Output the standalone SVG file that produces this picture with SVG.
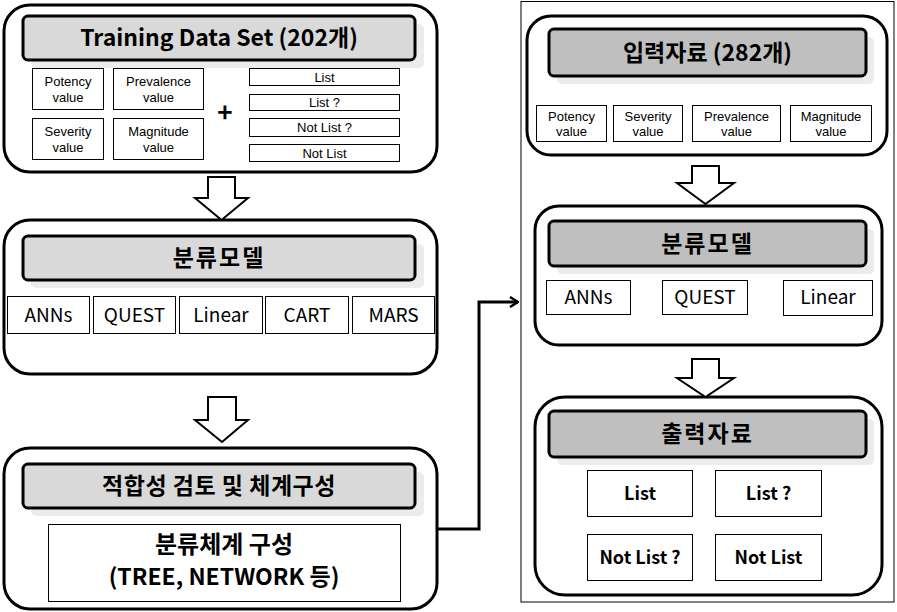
<svg xmlns="http://www.w3.org/2000/svg" width="897" height="612" viewBox="0 0 897 612">
<defs>
<style>
.outer{fill:#fff;stroke:#000;stroke-width:3}
.bar1{fill:#d9d9d9;stroke:#000;stroke-width:3}
.bar2{fill:#bfbfbf;stroke:#000;stroke-width:3}
.shadow{fill:#ececec;stroke:none}
.box{fill:#fff;stroke:#000;stroke-width:1}
.arrow{fill:#fff;stroke:#000;stroke-width:2;stroke-linejoin:miter}
.t{font-family:"Noto Sans CJK KR","Noto Sans",sans-serif;text-anchor:middle;fill:#000}
.title{font-size:23px;font-weight:bold}
.small{font-family:"Liberation Sans",Arial,sans-serif;font-size:13px}
.method{font-size:19px}
.out{font-size:18px;font-weight:bold}
.conn{fill:none;stroke:#000;stroke-width:3}
</style>
<marker id="chev" markerWidth="10" markerHeight="12" refX="9" refY="6" orient="auto" markerUnits="userSpaceOnUse">
<path d="M1,1 L9,6 L1,11" fill="none" stroke="#000" stroke-width="2.5"/>
</marker>
</defs>
<rect x="0" y="0" width="897" height="612" fill="#fff"/>

<rect id="panel" x="521" y="1.5" width="373" height="600.5" fill="none" stroke="#000" stroke-width="1"/>

<g id="training">
<rect class="outer" x="4" y="5" width="433" height="167" rx="26"/>
<rect class="shadow" x="31" y="24" width="393" height="44" rx="5"/>
<rect class="bar1" x="23" y="16" width="392" height="44" rx="5"/>
<text class="t title" x="219" y="46">Training Data Set (202개)</text>
<rect class="box" x="32.5" y="68.5" width="71" height="41"/>
<text class="t small" x="68" y="86">Potency</text><text class="t small" x="68" y="102">value</text>
<rect class="box" x="113.5" y="68.5" width="90" height="41"/>
<text class="t small" x="158.5" y="86">Prevalence</text><text class="t small" x="158.5" y="102">value</text>
<rect class="box" x="32.5" y="118.5" width="71" height="41"/>
<text class="t small" x="68" y="136">Severity</text><text class="t small" x="68" y="152">value</text>
<rect class="box" x="113.5" y="118.5" width="90" height="41"/>
<text class="t small" x="158.5" y="136">Magnitude</text><text class="t small" x="158.5" y="152">value</text>
<text class="t" x="225" y="122" style="font-size:26px;font-weight:bold">+</text>
<rect class="box" x="249.5" y="68.5" width="150" height="17"/>
<text class="t small" x="324.5" y="81.5">List</text>
<rect class="box" x="249.5" y="94.5" width="150" height="16"/>
<text class="t small" x="324.5" y="107">List ?</text>
<rect class="box" x="249.5" y="118.5" width="150" height="18"/>
<text class="t small" x="324.5" y="132">Not List ?</text>
<rect class="box" x="249.5" y="144.5" width="150" height="17"/>
<text class="t small" x="324.5" y="158">Not List</text>
</g>

<g id="model-left">
<rect class="outer" x="4" y="220" width="433" height="154" rx="26"/>
<rect class="shadow" x="31" y="244" width="393" height="44" rx="5"/>
<rect class="bar1" x="23" y="236" width="392" height="44" rx="5"/>
<text class="t title" x="219" y="266" style="letter-spacing:2px">분류모델</text>
<rect class="box" x="7.5" y="296.5" width="82" height="37"/>
<text class="t method" x="48.5" y="322">ANNs</text>
<rect class="box" x="93.5" y="296.5" width="82" height="37"/>
<text class="t method" x="134.5" y="322">QUEST</text>
<rect class="box" x="179.5" y="296.5" width="83" height="37"/>
<text class="t method" x="221" y="322">Linear</text>
<rect class="box" x="265.5" y="296.5" width="83" height="37"/>
<text class="t method" x="307" y="322">CART</text>
<rect class="box" x="352.5" y="296.5" width="82" height="37"/>
<text class="t method" x="393.5" y="322">MARS</text>
</g>

<g id="review">
<rect class="outer" x="4" y="448" width="433" height="161" rx="26"/>
<rect class="shadow" x="31" y="472" width="393" height="44" rx="5"/>
<rect class="bar1" x="23" y="464" width="392" height="44" rx="5"/>
<text class="t title" x="219" y="494" style="letter-spacing:0.5px">적합성 검토 및 체계구성</text>
<rect class="box" x="48.5" y="524.5" width="352" height="77"/>
<text class="t title" x="224" y="553" style="font-size:24px">분류체계 구성</text>
<text class="t title" x="224" y="585">(TREE, NETWORK 등)</text>
</g>

<g id="input">
<rect class="outer" x="527" y="16" width="360" height="139" rx="24"/>
<rect class="shadow" x="557" y="37" width="317" height="47" rx="5"/>
<rect class="bar2" x="549" y="29" width="317" height="47" rx="5"/>
<text class="t title" x="707.5" y="61">입력자료 (282개)</text>
<rect class="box" x="536.5" y="105.5" width="70" height="36"/>
<text class="t small" x="571.5" y="121">Potency</text><text class="t small" x="571.5" y="136">value</text>
<rect class="box" x="613.5" y="105.5" width="69" height="36"/>
<text class="t small" x="648" y="121">Severity</text><text class="t small" x="648" y="136">value</text>
<rect class="box" x="692.5" y="105.5" width="88" height="36"/>
<text class="t small" x="736.5" y="121">Prevalence</text><text class="t small" x="736.5" y="136">value</text>
<rect class="box" x="790.5" y="105.5" width="81" height="36"/>
<text class="t small" x="831" y="121">Magnitude</text><text class="t small" x="831" y="136">value</text>
</g>

<g id="model-right">
<rect class="outer" x="535" y="206" width="347" height="139" rx="24"/>
<rect class="shadow" x="557" y="229" width="317" height="45" rx="5"/>
<rect class="bar2" x="549" y="221" width="317" height="45" rx="5"/>
<text class="t title" x="707.5" y="252" style="letter-spacing:2px">분류모델</text>
<rect class="box" x="546.5" y="280.5" width="84" height="34"/>
<text class="t method" x="588.5" y="304">ANNs</text>
<rect class="box" x="662.5" y="280.5" width="85" height="34"/>
<text class="t method" x="705" y="304">QUEST</text>
<rect class="box" x="783.5" y="280.5" width="89" height="35"/>
<text class="t method" x="828" y="304">Linear</text>
</g>

<g id="output">
<rect class="outer" x="535" y="397" width="347" height="198" rx="30"/>
<rect class="shadow" x="557" y="419" width="317" height="46" rx="5"/>
<rect class="bar2" x="549" y="411" width="317" height="46" rx="5"/>
<text class="t title" x="707.5" y="442" style="letter-spacing:2px">출력자료</text>
<rect class="box" x="587.5" y="470.5" width="105" height="46"/>
<text class="t out" x="640" y="500">List</text>
<rect class="box" x="715.5" y="470.5" width="106" height="46"/>
<text class="t out" x="768.5" y="500">List ?</text>
<rect class="box" x="587.5" y="534.5" width="105" height="46"/>
<text class="t out" x="640" y="564">Not List ?</text>
<rect class="box" x="715.5" y="534.5" width="106" height="46"/>
<text class="t out" x="768.5" y="564">Not List</text>
</g>

<g id="connectors">
<path class="arrow" d="M208,177 L235,177 L235,198 L248,198 L221.5,220 L195,198 L208,198 Z"/>
<path class="arrow" d="M208,397 L236,397 L236,420 L248,420 L222,442 L195,420 L208,420 Z"/>
<path class="arrow" d="M692,166 L719,166 L719,183 L734,183 L705.5,204 L677,183 L692,183 Z"/>
<path class="arrow" d="M692,359 L719,359 L719,378 L734,378 L705.5,397 L677,378 L692,378 Z"/>
<path class="conn" d="M437,529 L479,529 L479,302 L518,302" marker-end="url(#chev)"/>
</g>
</svg>
